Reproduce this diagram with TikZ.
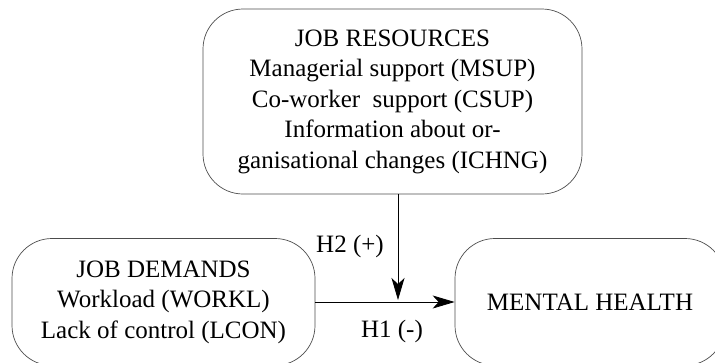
\documentclass[tikz,border=0pt]{standalone}
\usepackage{fontspec}
\setmainfont{Liberation Serif}
\usetikzlibrary{arrows.meta}
\begin{document}
\begin{tikzpicture}[x=1pt,y=-1pt,
  box/.style={draw=black!70,line width=0.7pt,rounded corners=40pt,align=center,inner sep=0pt,
    font=\fontsize{25}{30.5}\selectfont},
  conn/.style={line width=0.8pt,-{Stealth[length=22pt,width=13pt,inset=6pt]}},
  lab/.style={font=\fontsize{25}{30.5}\selectfont,inner sep=0pt}]
\useasboundingbox (0,0) rectangle (715,362);
\clip (0,0) rectangle (715,362);
\node[box,minimum width=379pt,minimum height=185pt] (res) at (392.5,101.5)
  {JOB RESOURCES\\Managerial support (MSUP)\\Co-worker\ \ support (CSUP)\\Information about or-\\ganisational changes (ICHNG)};
\node[box,minimum width=303pt,minimum height=127pt] (dem) at (163.5,302)
  {JOB DEMANDS\\Workload (WORKL)\\Lack of control (LCON)};
\node[box,minimum width=270pt,minimum height=127pt] (mh) at (590,302)
  {MENTAL HEALTH};
\coordinate (j) at (398,300);
\draw[conn] (dem.east) -- (mh.west);
\draw[conn] (res.south -| j) -- (j);
\node[lab] (h2) at (350,246) {H2 (+)};
\node[lab] (h1) at (392,331) {H1 (-)};
\end{tikzpicture}
\end{document}
